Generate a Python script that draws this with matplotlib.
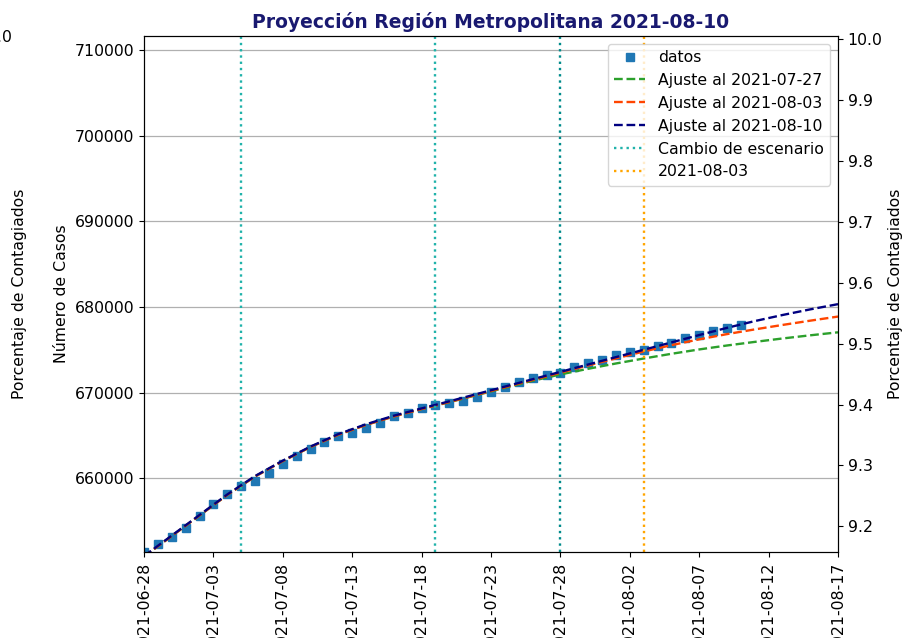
import numpy as np
import matplotlib
matplotlib.use('Agg')
import matplotlib.pyplot as plt
import matplotlib.dates as mdates

# datos diarios Region Metropolitana (casos acumulados)
fechas = np.arange(np.datetime64('2021-06-28'), np.datetime64('2021-08-11'))
casos = [651410, 652310, 653080, 654240, 655610, 656970, 658130, 659100,
         659690, 660650, 661640, 662600, 663380, 664270, 664930, 665320,
         665830, 666480, 667260, 667650, 668190, 668590, 668810, 669010,
         669510, 670090, 670680, 671260, 671730, 672040, 672270, 673010,
         673470, 673790, 674370, 674760, 674950, 675420, 675800, 676320,
         676700, 677170, 677600, 677870]

# curvas de ajuste (cada 2 dias)
fechas_aj = np.arange(np.datetime64('2021-06-28'), np.datetime64('2021-08-18'), 2)
ajuste_0727 = [650850, 653250, 655650, 658050, 660200, 662000, 663650, 665080,
               666230, 667220, 668080, 668880, 669720, 670560, 671380, 672120,
               672780, 673400, 673980, 674530, 675040, 675500, 675920, 676320,
               676690, 677040]
ajuste_0803 = [650850, 653250, 655650, 658050, 660200, 662000, 663650, 665080,
               666230, 667220, 668080, 668900, 669760, 670620, 671470, 672320,
               673170, 673990, 674800, 675540, 676220, 676830, 677380, 677900,
               678400, 678880]
ajuste_0810 = [650900, 653300, 655700, 658100, 660250, 662050, 663700, 665150,
               666300, 667300, 668150, 668980, 669840, 670700, 671560, 672420,
               673280, 674140, 675000, 675860, 676720, 677560, 678350, 679060,
               679720, 680330]

cambios = ['2021-07-05', '2021-07-19', '2021-07-28']
colores_cambio = ['lightseagreen', 'lightseagreen', 'darkcyan']
fecha_ref = '2021-08-03'
poblacion = 7112808

fs = 11.3
plt.rcParams['font.size'] = fs

fig = plt.figure(figsize=(9.07, 6.38), dpi=100)
ax = fig.add_axes([144/907, 1-552/638, (838-144)/907, (552-36)/638])

ax.plot(fechas, casos, 's', color='tab:blue', markersize=6, label='datos')
ax.plot(fechas_aj, ajuste_0727, '--', color='tab:green', lw=1.7, label='Ajuste al 2021-07-27')
ax.plot(fechas_aj, ajuste_0803, '--', color='orangered', lw=1.7, label='Ajuste al 2021-08-03')
ax.plot(fechas_aj, ajuste_0810, '--', color='navy', lw=1.7, label='Ajuste al 2021-08-10')
for i in range(len(cambios)):
    ax.axvline(np.datetime64(cambios[i]), ls=':', color=colores_cambio[i], lw=1.7,
               label='Cambio de escenario' if i == 0 else None)
ax.axvline(np.datetime64(fecha_ref), ls=':', color='orange', lw=1.7, label=fecha_ref)

ylim = (651380, 711650)
ax.set_ylim(ylim)
ax.set_xlim(np.datetime64('2021-06-28'), np.datetime64('2021-08-17'))
ax.set_xticks(np.arange(np.datetime64('2021-06-28'), np.datetime64('2021-08-18'), 5))
ax.xaxis.set_major_formatter(mdates.DateFormatter('%Y-%m-%d'))
plt.setp(ax.get_xticklabels(), rotation=90)
ax.set_yticks(np.arange(660000, 710001, 10000))
ax.grid(axis='y', color='#b0b0b0', lw=0.9)
ax.set_ylabel('Número de Casos')
ax.set_title('Proyección Región Metropolitana 2021-08-10', fontweight='bold',
             color='midnightblue', fontsize=13.5)
ax.legend(loc='upper right', fontsize=fs)

ax2 = ax.twinx()
ax2.set_ylim(ylim[0]/poblacion*100, ylim[1]/poblacion*100)
ax2.set_yticks(np.arange(9.2, 10.01, 0.1))
ax2.yaxis.set_major_formatter(matplotlib.ticker.FormatStrFormatter('%.1f'))
ax2.set_ylabel('Porcentaje de Contagiados')

# restos del panel vecino (recortado)
fig.text(20/907, 1-294/638, 'Porcentaje de Contagiados', rotation=90,
         ha='center', va='center', fontsize=fs)
fig.text(12/907, 1-38/638, '10.0', ha='right', va='center', fontsize=fs)

fig.savefig('out.png', dpi=100)
